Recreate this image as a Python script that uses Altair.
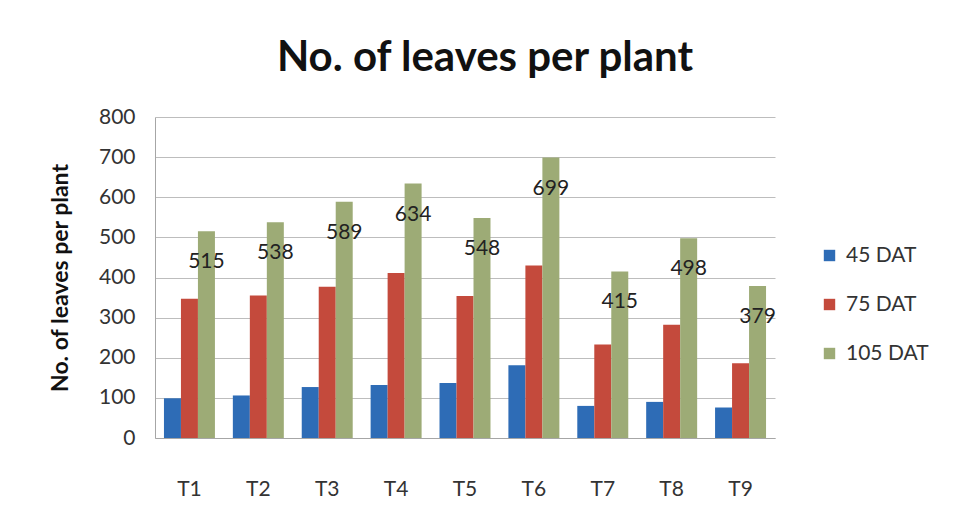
import altair as alt
import pandas as pd

treatments = ["T1", "T2", "T3", "T4", "T5", "T6", "T7", "T8", "T9"]
series = ["45 DAT", "75 DAT", "105 DAT"]
dat45 = [99, 106, 127, 132, 137, 181, 80, 90, 76]
dat75 = [347, 355, 377, 411, 354, 430, 233, 282, 186]
dat105 = [515, 538, 589, 634, 548, 699, 415, 498, 379]
colors = ["#2E6CB6", "#C44A3C", "#9DAB76"]
y_ticks = [0, 100, 200, 300, 400, 500, 600, 700, 800]

rows = []
for i, t in enumerate(treatments):
    for s, vals in zip(series, [dat45, dat75, dat105]):
        rows.append({"treatment": t, "series": s, "value": vals[i]})
df = pd.DataFrame(rows)

FONT = "Lato"

x = alt.X("treatment:N", sort=treatments, title=None,
          scale=alt.Scale(paddingInner=0.26, paddingOuter=0.13),
          axis=alt.Axis(labelAngle=0, labelPadding=40, ticks=False, domainColor="#A6A6A6",
                        labelFontSize=21, labelColor="#333333", labelFont=FONT))
xo = alt.XOffset("series:N", sort=series, scale=alt.Scale(domain=series, paddingInner=0, paddingOuter=0))
y = alt.Y("value:Q", scale=alt.Scale(domain=[0, 800], nice=False), title="No. of leaves per plant",
          axis=alt.Axis(values=y_ticks, ticks=False, labelOverlap=False,
                        domainColor="#A6A6A6", gridColor="#BDBDBD", labelPadding=20,
                        labelFontSize=21, labelColor="#333333", labelFont=FONT,
                        titleFont=FONT, titleFontSize=23, titleFontWeight="bold",
                        titleColor="#111111", titlePadding=26))

bars = alt.Chart(df).mark_bar().encode(
    x=x, xOffset=xo, y=y,
    color=alt.Color("series:N", sort=series,
                    scale=alt.Scale(domain=series, range=colors),
                    legend=alt.Legend(title=None, orient="none", legendX=664, legendY=128,
                                      symbolType="square", symbolSize=130, symbolStrokeWidth=0,
                                      labelFontSize=21, labelFont=FONT, labelColor="#333333",
                                      rowPadding=27, labelOffset=6)),
)

labels = alt.Chart(df).transform_filter(alt.datum.series == "105 DAT").mark_text(
    baseline="middle", align="center", dy=31, fontSize=21, font=FONT, color="#222222"
).encode(x=x, xOffset=xo, y=y, text=alt.Text("value:Q"))

chart = alt.layer(bars, labels).properties(
    width=620, height=321,
    title=alt.Title("No. of leaves per plant", fontSize=42, font=FONT, fontWeight="bold",
                    color="#111111", offset=26, dx=20),
    autosize=alt.AutoSizeParams(type="none"),
    padding={"left": 147, "top": 109, "right": 174, "bottom": 77},
).configure_view(stroke=None)

chart.save("out.html", embed_options={"renderer": "svg", "actions": False})
